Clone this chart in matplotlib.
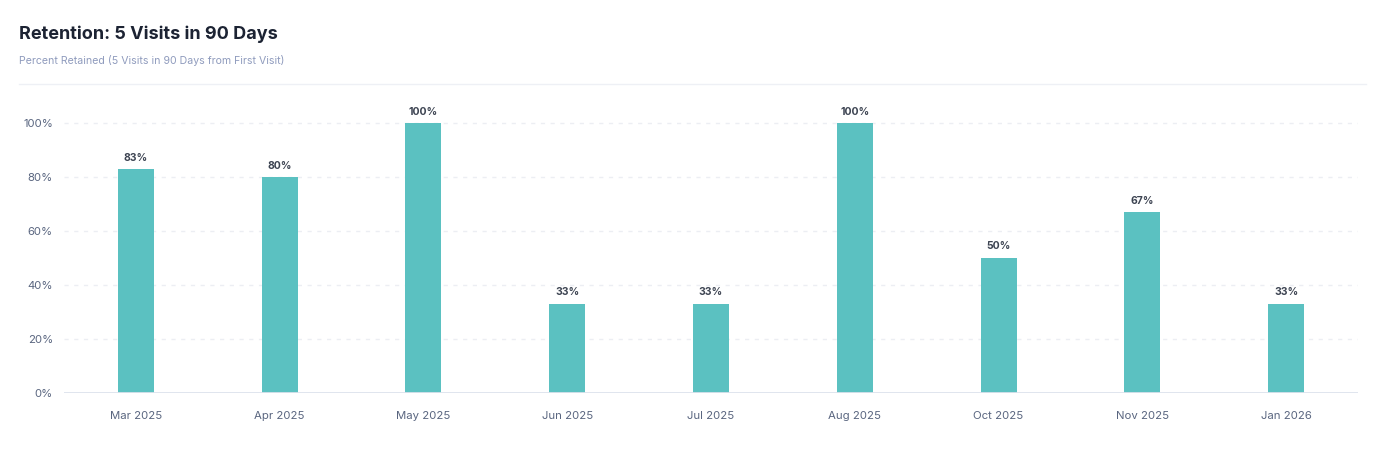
import matplotlib
matplotlib.use("Agg")
import matplotlib.pyplot as plt
from matplotlib.lines import Line2D

months = ["Mar 2025", "Apr 2025", "May 2025", "Jun 2025", "Jul 2025",
          "Aug 2025", "Oct 2025", "Nov 2025", "Jan 2026"]
retained = [83, 80, 100, 33, 33, 100, 50, 67, 33]
y_ticks = [0, 20, 40, 60, 80, 100]

plt.rcParams['font.family'] = ['Inter', 'DejaVu Sans']

fig = plt.figure(figsize=(14, 4.5), dpi=100)
ax = fig.add_axes([64 / 1400, 1 - 393 / 450, (1358 - 64) / 1400, (393 - 110) / 450])

x = range(len(months))
bars = ax.bar(x, retained, width=0.25, color="#5bc1c1", zorder=3)
for b, v in zip(bars, retained):
    ax.text(b.get_x() + b.get_width() / 2, v + 2.5, f"{v}%", ha="center", va="bottom",
            fontsize=7.5, fontweight="bold", color="#3d4452")

ax.set_xlim(-0.5, len(months) - 0.5)
ax.set_ylim(0, 105)
ax.set_xticks(list(x))
ax.set_xticklabels(months)
ax.set_yticks(y_ticks)
ax.set_yticklabels([f"{t}%" for t in y_ticks])
ax.tick_params(axis="both", length=0, labelsize=8.2, labelcolor="#5a6680")
ax.tick_params(axis="x", pad=13)
ax.tick_params(axis="y", pad=8)

for t in y_ticks[1:]:
    ax.axhline(t, color="#eceef3", lw=1, ls=(0, (3, 4)), zorder=1)
ax.axhline(0, color="#dde2ec", lw=2, zorder=4)
for s in ax.spines.values():
    s.set_visible(False)

fig.text(19 / 1400, 1 - 34 / 450, "Retention: 5 Visits in 90 Days", fontsize=13,
         fontweight="bold", color="#1c2333", va="center")
fig.text(19 / 1400, 1 - 60 / 450, "Percent Retained (5 Visits in 90 Days from First Visit)",
         fontsize=7.6, color="#8f9bbd", va="center")
fig.add_artist(Line2D([19 / 1400, 1366 / 1400], [1 - 84 / 450, 1 - 84 / 450],
                      color="#eef0f5", lw=1, transform=fig.transFigure))

fig.savefig("out.png", dpi=100, facecolor="white")
